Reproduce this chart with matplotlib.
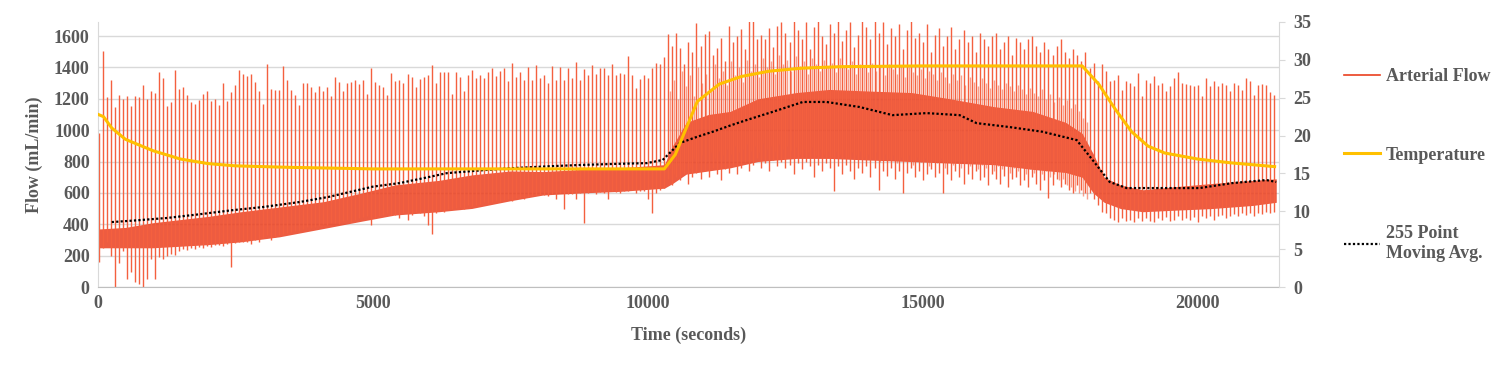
import numpy as np
import matplotlib
matplotlib.use('Agg')
from matplotlib import pyplot as plt
from matplotlib.lines import Line2D

# ---- data ----
# segment A: regular spikes, 0 - 10300 s
a_start, a_end = 10, 10300
a_peak = [980, 1508, 1210, 1318, 1148, 1223, 1197, 1218, 1152, 1220, 1210, 1291, 1201, 1248, 1238, 1372, 1330, 1152, 1180,
          1381, 1265, 1274, 1227, 1180, 1167, 1195, 1231, 1253, 1189, 1201, 1163, 1301, 1184, 1244, 1291, 1387, 1359,
          1344, 1359, 1306, 1253, 1169, 1419, 1265, 1255, 1259, 1408, 1323, 1259, 1223, 1163, 1299, 1299, 1274, 1242,
          1285, 1248, 1274, 1216, 1338, 1306, 1248, 1302, 1306, 1323, 1297, 1323, 1233, 1398, 1306, 1291, 1274, 1227, 1366,
          1312, 1319, 1302, 1359, 1340, 1276, 1329, 1342, 1355, 1413, 1302, 1370, 1370, 1372, 1233, 1370, 1340, 1248,
          1349, 1387, 1334, 1355, 1334, 1370, 1398, 1344, 1376, 1398, 1312, 1430, 1340, 1370, 1319, 1402, 1319, 1413, 1334,
          1349, 1302, 1408, 1317, 1404, 1323, 1394, 1334, 1434, 1323, 1391, 1349, 1413, 1359, 1398, 1394, 1355, 1421,
          1349, 1366, 1359, 1472, 1355, 1270, 1327, 1355, 1334, 1398, 1430, 1423, 1468]
a_trough = [160, 250, 290, 200, 0, 150, 230, 53, 96, 32, 21, 0, 53, 180, 53, 190, 181, 200, 210, 205, 230, 240, 235,
            250, 245, 255, 250, 260, 255, 265, 270, 260, 275, 128, 280, 285, 290,
            290, 277, 300, 285, 310, 330, 300, 320, 330, 340, 345, 350, 360, 355, 370, 380, 375, 385, 390, 400, 395,
            405, 410, 400, 420, 425, 415, 430, 440, 445, 450, 395, 440, 455, 460, 470, 459,
            459, 440, 470, 430, 460, 480, 470, 450, 395, 341, 470, 490, 480, 500, 495, 505, 510, 500, 520, 515, 525,
            530, 540, 535, 545, 550, 545, 555, 560, 550, 565, 570, 560, 575, 580, 585, 587,
            587, 580, 590, 560, 600, 500, 595, 590, 560, 600, 405, 600, 610, 590, 605, 600, 560, 610, 605, 600, 615,
            610, 620, 600, 615, 610, 560, 470, 600, 620, 630]

# segment B: warm phase, tall spikes plus noise lines in between
b_start, b_end = 10370, 17950
b_peak = [1611, 1536, 1622, 1526, 1419, 1560, 1500, 1686, 1540, 1611, 1632, 1480, 1526, 1590, 1440, 1665, 1560, 1600,
          1643, 1520, 1697, 1700, 1580, 1610, 1579, 1650, 1530, 1665, 1690, 1620,
          1560, 1700, 1640, 1580, 1690, 1520, 1660, 1700, 1600, 1550, 1680, 1620, 1700, 1570, 1640, 1690, 1530, 1610,
          1700, 1660, 1580, 1700, 1620, 1690, 1550, 1650, 1600, 1680, 1520, 1640, 1700, 1590, 1620, 1560, 1680, 1500,
          1610, 1650, 1540, 1600, 1660, 1520, 1580, 1640, 1560, 1600, 1500, 1620, 1580, 1540, 1600, 1620, 1520, 1560,
          1600, 1480, 1590, 1560, 1520, 1580, 1600, 1540, 1500, 1560, 1520, 1480, 1540, 1580, 1500, 1460, 1520, 1480,
          1440, 1500]
b_trough = [690, 650, 700, 680, 720, 660, 700, 730, 690, 740, 700, 760, 720, 680, 750, 730, 770, 720, 760, 800, 740,
            780, 820, 760, 790, 740, 810, 770, 800, 760,
            780, 720, 790, 750, 800, 770, 700, 780, 740, 790, 760, 610, 770, 720, 780, 740, 690, 760, 730, 770,
            700, 760, 620, 740, 710, 760, 690, 740, 600, 730, 760, 700, 740, 680, 720, 750, 700, 730, 600, 720,
            680, 740, 700, 660, 720, 690, 740, 680, 700, 650, 720, 690, 660, 710, 640, 690, 700, 650, 680, 640,
            700, 660, 620, 680, 565, 650, 690, 640, 660, 620, 600, 650, 620, 600]
n_start, n_end = 10405, 17985
n_peak = [1250, 1320, 1200, 1380, 1280, 1350, 1220, 1400, 1300, 1360, 1260, 1420, 1330, 1380, 1290, 1440, 1350, 1400,
          1310, 1450, 1380, 1420, 1340, 1460, 1400, 1440, 1360, 1480, 1420, 1450,
          1380, 1470, 1410, 1440, 1360, 1460, 1420, 1380, 1450, 1400, 1430, 1370, 1460, 1410, 1390, 1440, 1360, 1420,
          1400, 1370, 1430, 1380, 1410, 1350, 1420, 1390, 1360, 1410, 1340, 1400, 1370, 1350, 1390, 1330, 1380, 1360,
          1320, 1370, 1340, 1300, 1360, 1320, 1350, 1290, 1340, 1310, 1280, 1330, 1300, 1270, 1320, 1290, 1260, 1300,
          1280, 1250, 1290, 1260, 1230, 1270, 1240, 1220, 1260, 1200, 1230, 1180, 1210, 1160, 1190, 1140, 1170, 1120,
          1080, 1050]
n_trough = [760, 720, 780, 740, 800, 760, 820, 790, 840, 800, 860, 820, 870, 840, 880, 850, 900, 860, 880, 910, 870,
            900, 860, 920, 880, 900, 870, 910, 880, 900,
            870, 890, 850, 880, 860, 890, 840, 880, 850, 870, 830, 870, 850, 880, 820, 860, 840, 870, 830, 850,
            820, 860, 800, 850, 820, 840, 790, 830, 810, 840, 780, 830, 800, 820, 770, 810, 790, 820, 760, 800,
            780, 810, 760, 790, 770, 800, 750, 780, 760, 790, 740, 770, 750, 780, 730, 760, 740, 770, 720, 750,
            730, 760, 720, 740, 700, 720, 680, 690, 650, 640, 610, 600, 580, 560]

# segment C: cool-down, regular spikes
c_start, c_end = 18037, 21393
c_peak = [1398, 1430, 1312, 1419, 1376, 1312, 1323, 1355, 1259, 1312, 1302, 1280, 1366, 1216,
          1323, 1302, 1344, 1291, 1302, 1253, 1280, 1334, 1372, 1302, 1295, 1291, 1280, 1291, 1216, 1334, 1280,
          1312, 1280, 1302, 1291, 1248, 1302, 1291, 1259, 1334, 1312, 1227, 1291, 1297, 1287, 1244, 1227]
c_trough = [600, 560, 520, 480, 470, 440, 430, 416, 440, 420, 430, 416, 440, 420,
            437, 420, 416, 440, 430, 445, 420, 430, 450, 425, 440, 430, 445, 416, 450, 440, 455, 430, 450, 460,
            440, 455, 465, 450, 470, 460, 470, 455, 475, 465, 480, 470, 480]

# dense band of the flow trace
band_t = [10, 500, 1000, 1500, 2000, 2600, 3300, 4100, 4800, 5400, 6200, 6800, 7500, 8100, 8800, 9500, 10300,
          10450, 10700, 11100, 11500, 12000, 12700, 13300, 14000, 14800, 15500, 16300, 17000, 17600, 17900,
          18100, 18300, 18600, 19000, 19600, 20250, 21000, 21430]
band_lo = [250, 250, 250, 260, 270, 288, 320, 373, 420, 459, 480, 501, 550, 587, 600, 610, 630,
           660, 720, 740, 760, 800, 820, 820, 810, 800, 790, 780, 750, 730, 700,
           600, 540, 500, 480, 490, 500, 520, 540]
band_hi = [370, 380, 410, 430, 450, 480, 510, 544, 600, 651, 680, 715, 740, 736, 750, 760, 780,
           900, 1050, 1100, 1120, 1200, 1240, 1260, 1250, 1240, 1200, 1150, 1120, 1050, 980,
           850, 700, 650, 620, 640, 660, 680, 690]

# 255 point moving average
ma_t = [250, 700, 1250, 1800, 2450, 3000, 3670, 4200, 4580, 5000, 5490, 6000, 6345, 7000, 7545, 8200, 8760, 9400,
        9980, 10270, 10580, 10890, 11180, 11500, 11800, 12270, 12820, 13250, 13850, 14450, 15070, 15670, 15980,
        16580, 17180, 17800, 18090, 18400, 18710, 19300, 20036, 20636, 21250, 21430]
ma_v = [414, 425, 440, 462, 490, 510, 542, 575, 606, 640, 663, 700, 726, 745, 758, 770, 778, 785,
        790, 810, 918, 957, 990, 1030, 1065, 1117, 1180, 1180, 1148, 1096, 1109, 1096, 1045,
        1020, 990, 937, 810, 670, 631, 631, 631, 663, 682, 670]

# temperature (right axis)
temp_t = [0, 100, 250, 500, 1000, 1500, 2000, 2500, 3500, 5000, 7500, 10300, 10500, 10900, 11300, 11700, 12200,
          12800, 13500, 15000, 17900, 18200, 18500, 18800, 19100, 19400, 20000, 20600, 21400]
temp_v = [22.8, 22.5, 21.0, 19.5, 18.0, 16.9, 16.3, 16.0, 15.8, 15.6, 15.6, 15.6, 17.5, 24.5, 26.8, 27.8, 28.5,
          28.9, 29.1, 29.2, 29.2, 26.8, 23.5, 20.5, 18.6, 17.7, 16.9, 16.4, 15.9]

# ---- plot ----
grey = '#595959'
red = '#EA3F1F'
spike = '#F4603F'
plt.rcParams['font.family'] = ['Liberation Serif', 'DejaVu Serif']
plt.rcParams['font.weight'] = 'bold'
plt.rcParams['font.size'] = 13

fig = plt.figure(figsize=(15, 3.78), dpi=100)
ax = fig.add_axes([98 / 1500, 1 - 287 / 378, (1279 - 98) / 1500, (287 - 22) / 378])

ax.fill_between(band_t, band_lo, band_hi, color=red, alpha=0.85, lw=0, zorder=2)
ax.vlines(np.linspace(a_start, a_end, len(a_peak)), a_trough, a_peak, colors=spike, lw=1.0, zorder=2)
ax.vlines(np.linspace(n_start, n_end, len(n_peak)), n_trough, n_peak, colors=spike, lw=1.0, alpha=0.6, zorder=2)
ax.vlines(np.linspace(b_start, b_end, len(b_peak)), b_trough, b_peak, colors=spike, lw=1.0, zorder=2)
ax.vlines(np.linspace(c_start, c_end, len(c_peak)), c_trough, c_peak, colors=spike, lw=1.0, zorder=2)
ax.plot(ma_t, ma_v, color='black', lw=1.6, ls=(0, (1, 1)), zorder=3)

ax.set_xlim(0, 21480)
ax.set_ylim(0, 1690)
ax.set_yticks(range(0, 1601, 200))
ax.set_xticks(range(0, 20001, 5000))
ax.grid(axis='y', color='#D9D9D9', lw=1)
ax.set_axisbelow(True)
ax.tick_params(axis='both', length=0, colors=grey, labelsize=13, pad=6)
for s in ['top', 'right']:
    ax.spines[s].set_visible(False)
ax.spines['left'].set_color('#D9D9D9')
ax.spines['bottom'].set_color('#BFBFBF')
ax.set_ylabel('Flow (mL/min)', color=grey, fontsize=13, fontweight='bold', labelpad=8)
ax.set_xlabel('Time (seconds)', color=grey, fontsize=13, fontweight='bold', labelpad=10)

ax2 = ax.twinx()
ax2.plot(temp_t, temp_v, color='#FFC000', lw=2.2)
ax2.set_ylim(0, 35)
ax2.set_yticks(range(0, 36, 5))
ax2.tick_params(axis='y', length=4, color='#D9D9D9', colors=grey, labelsize=13, pad=6)
for s in ['top', 'left', 'bottom']:
    ax2.spines[s].set_visible(False)
ax2.spines['right'].set_color('#D9D9D9')

handles = [Line2D([], [], color=red, lw=1.2),
           Line2D([], [], color='#FFC000', lw=2.2),
           Line2D([], [], color='black', lw=1.6, ls=(0, (1, 1)))]
labels = ['Arterial Flow', 'Temperature', '255 Point\nMoving Avg.']
fig.legend(handles, labels, loc='upper left', bbox_to_anchor=(1328 / 1500, 1 - 52 / 378),
           frameon=False, handlelength=2.0, handletextpad=0.3, labelspacing=3.4,
           prop={'family': 'Liberation Serif', 'weight': 'bold', 'size': 13}, labelcolor=grey)

fig.savefig('out.png', dpi=100)
